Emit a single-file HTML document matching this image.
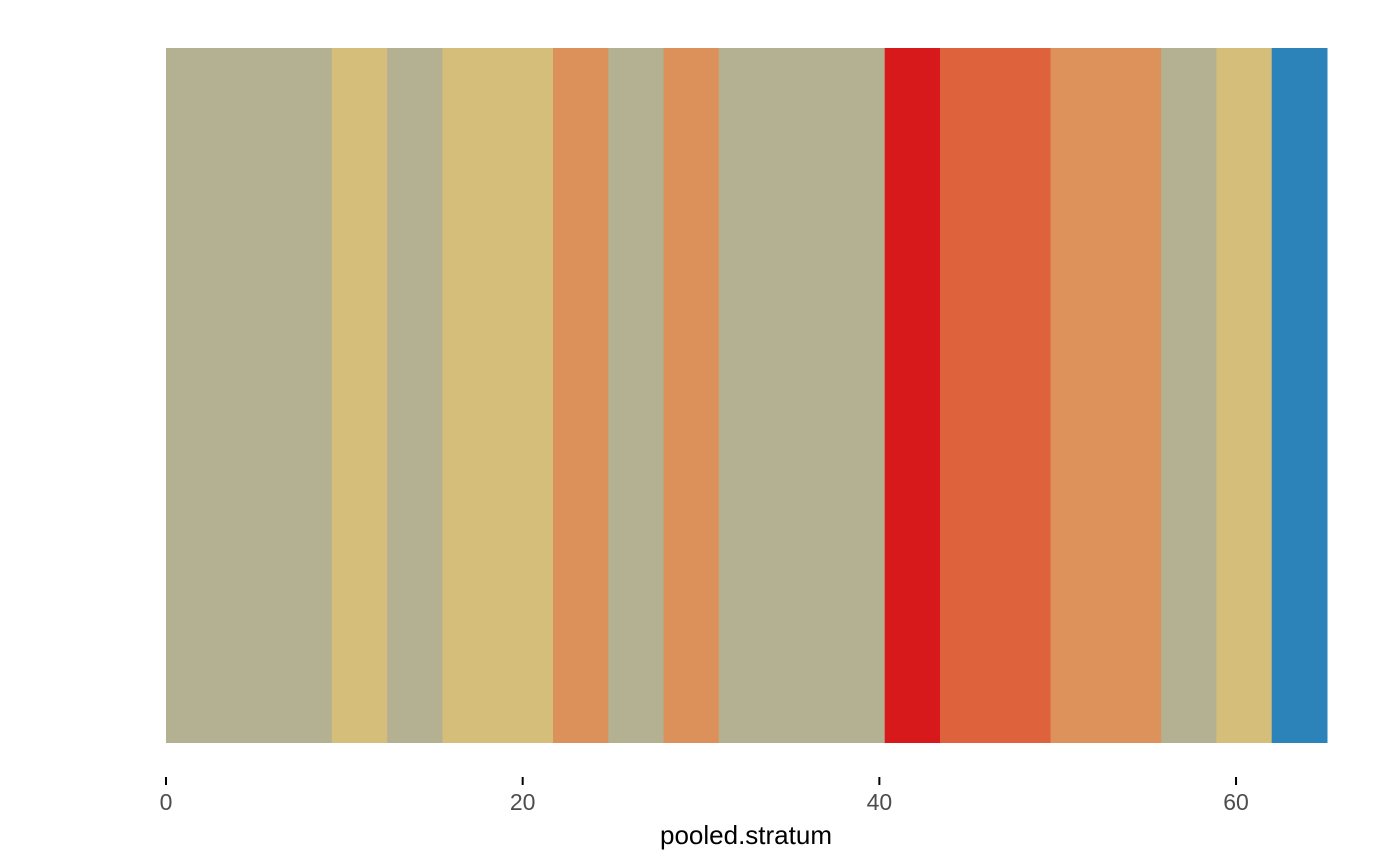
<!DOCTYPE html>
<html>
<head>
<meta charset="utf-8">
<style>
  html,body{margin:0;padding:0;background:#fff;}
  svg{display:block;}
  text{font-family:"Liberation Sans",Arial,sans-serif;}
</style>
</head>
<body>
<svg id="chart" width="1400" height="865" viewBox="0 0 1400 865">
  <g id="bands"></g>
  <g id="xaxis"></g>
  <text x="746" y="844" text-anchor="middle" font-size="26" fill="#000">pooled.stratum</text>
</svg>
<script>
// band boundaries (in pooled.stratum units) and colours
const bandStarts = [0, 9.3, 12.4, 15.5, 21.7, 24.8, 27.9, 31.0, 40.3, 43.4, 49.6, 55.8, 58.9, 62.0];
const bandEnds   = [9.3, 12.4, 15.5, 21.7, 24.8, 27.9, 31.0, 40.3, 43.4, 49.6, 55.8, 58.9, 62.0, 65.1];
const bandColors = ["#b3b191","#d5bd7a","#b3b191","#d5bd7a","#dd915a","#b3b191","#dd915a","#b3b191","#d7191c","#de633d","#dd925b","#b3b191","#d5bd7a","#2b83ba"];
const tickValues = [0, 20, 40, 60];
const tickLabels = ["0", "20", "40", "60"];

const x0 = 166, pxPerUnit = 17.834;
const plotTop = 48, plotBottom = 743;
function xScale(v){ return x0 + v * pxPerUnit; }

const ns = "http://www.w3.org/2000/svg";
const bands = document.getElementById("bands");
for (let i = 0; i < bandStarts.length; i++) {
  const r = document.createElementNS(ns, "rect");
  const a = xScale(bandStarts[i]), b = xScale(bandEnds[i]);
  r.setAttribute("x", a);
  r.setAttribute("y", plotTop);
  r.setAttribute("width", b - a + 0.5);
  r.setAttribute("height", plotBottom - plotTop);
  r.setAttribute("fill", bandColors[i]);
  
  
  bands.appendChild(r);
}
const xaxis = document.getElementById("xaxis");
for (let i = 0; i < tickValues.length; i++) {
  const x = xScale(tickValues[i]);
  const l = document.createElementNS(ns, "line");
  l.setAttribute("x1", x); l.setAttribute("x2", x);
  l.setAttribute("y1", 777); l.setAttribute("y2", 785);
  l.setAttribute("stroke", "#000"); l.setAttribute("stroke-width", "2");
  
  
  xaxis.appendChild(l);
  const t = document.createElementNS(ns, "text");
  t.setAttribute("x", x); t.setAttribute("y", 810);
  t.setAttribute("text-anchor", "middle");
  t.setAttribute("font-size", "23");
  t.setAttribute("fill", "#4d4d4d");
  t.textContent = tickLabels[i];
  
  
  xaxis.appendChild(t);
}
</script>
</body>
</html>
